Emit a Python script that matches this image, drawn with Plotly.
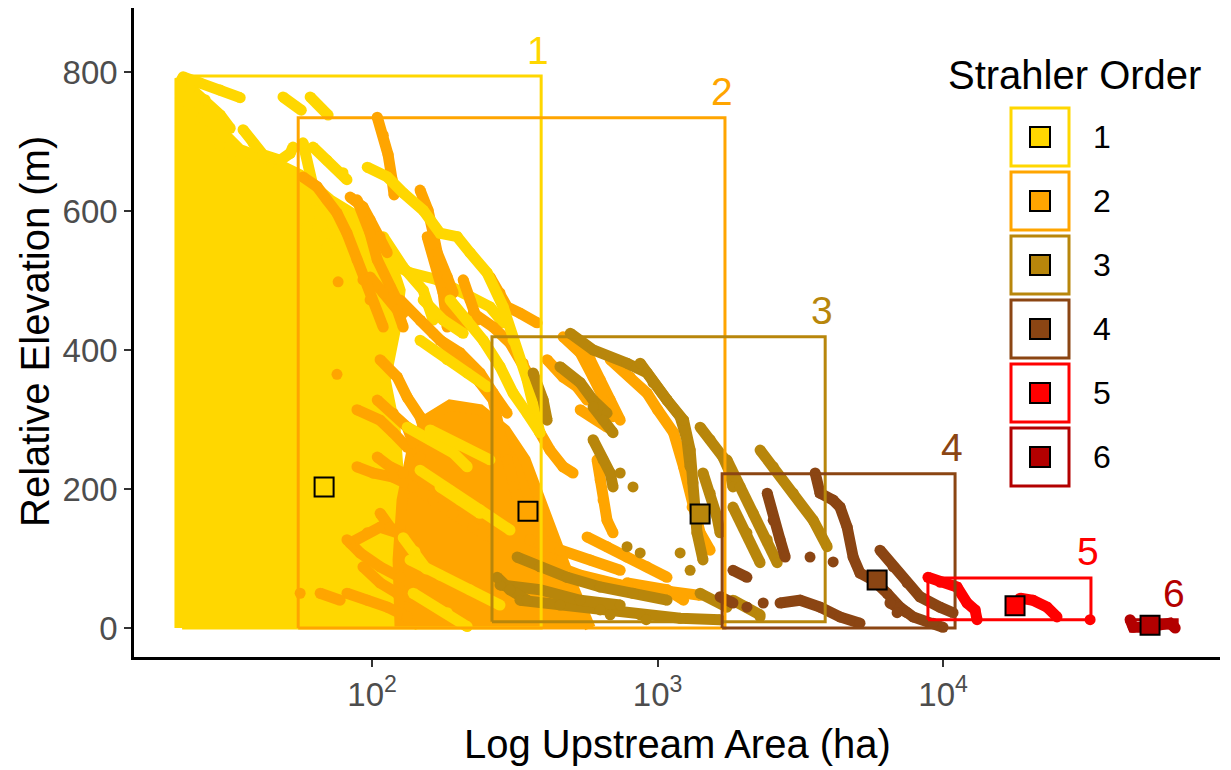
import math
import plotly.graph_objects as go

# ---------------- data ----------------
ORDERS = [1, 2, 3, 4, 5, 6]
COLORS = ["#FFD700", "#FFA500", "#B8860B", "#8B4513", "#FF0000", "#B30000"]

# extent of each Strahler order (upstream area in ha, relative elevation in m)
BOX_AREA_MIN = [21.6, 55.1, 263, 1683, 8851, 45186]
BOX_AREA_MAX = [391, 1722, 3864, 11015, 32960, 66069]
BOX_ELEV_MIN = [0, 0, 9, 0, 12, 0]
BOX_ELEV_MAX = [794, 734, 419, 222, 72, 12]

# mean position of each order
MEAN_AREA = [67.9, 351.6, 1409, 5875, 17865, 53088]
MEAN_ELEV = [203, 168, 164, 69, 32, 4]

# stream profiles: (log10 upstream area [ha], relative elevation [m])
ORDER1_CLOUD = [(1.327, 0), (1.327, 791), (1.380, 760), (1.450, 724), (1.538, 688), (1.643, 673),
                (1.748, 652), (1.853, 616), (1.940, 594), (2.011, 565), (2.063, 530), (2.098, 486),
                (2.081, 429), (2.046, 357), (2.081, 285), (2.098, 184), (2.081, 98), (2.168, 0)]
ORDER1_STREAMS = [
    [(1.334, 790), (1.334, 690)],
    [(1.338, 793), (1.398, 784), (1.468, 774), (1.538, 763)],
    [(1.363, 777), (1.415, 760), (1.468, 738), (1.503, 719)],
    [(1.338, 742), (1.398, 719), (1.468, 695), (1.538, 673)],
    [(1.688, 764), (1.752, 745)],
    [(1.783, 764), (1.846, 738)],
    [(1.548, 717), (1.583, 698), (1.618, 681), (1.678, 673), (1.713, 683), (1.723, 692)],
    [(1.758, 698), (1.783, 649), (1.807, 601), (1.842, 548), (1.877, 505)],
    [(1.793, 692), (1.842, 673), (1.898, 655), (1.912, 645)],
    [(2.039, 563), (2.109, 519), (2.179, 486), (2.214, 443)],
    [(1.772, 577), (1.842, 568), (1.923, 558), (1.993, 540), (2.063, 525), (2.133, 511), (2.228, 501),
     (2.308, 486), (2.413, 462), (2.459, 439)],
]
ORDER1_OVERLAY = [
    [(1.983, 663), (2.053, 649), (2.109, 626), (2.179, 601), (2.238, 568), (2.298, 563), (2.343, 540),
     (2.403, 511), (2.459, 462), (2.494, 414), (2.543, 357), (2.588, 281)],
    [(2.273, 472), (2.333, 443), (2.389, 414), (2.448, 376), (2.494, 338), (2.543, 309), (2.588, 281)],
    [(2.168, 414), (2.263, 386), (2.333, 367), (2.403, 347)],
    [(2.123, 289), (2.203, 271), (2.284, 252), (2.333, 232)],
    [(2.203, 285), (2.308, 263), (2.413, 242)],
    [(2.238, 203), (2.308, 184), (2.378, 165)],
    [(2.168, 227), (2.273, 198), (2.378, 170), (2.483, 141)],
    [(2.133, 98), (2.238, 76), (2.343, 55), (2.448, 33)],
    [(2.179, 472), (2.249, 443), (2.319, 424)],
    [(2.144, 50), (2.263, 22), (2.333, 2)],
    [(2.109, 130), (2.150, 110), (2.190, 85)],
]
ORDER2_CLOUD = [(2.098, 0), (2.091, 98), (2.105, 184), (2.140, 256), (2.186, 299), (2.273, 321),
                (2.378, 314), (2.466, 285), (2.536, 242), (2.588, 184), (2.641, 127), (2.694, 69),
                (2.764, 0)]
ORDER2_STREAMS = [
    [(2.018, 735), (2.039, 709), (2.056, 681), (2.070, 645), (2.077, 623)],
    [(2.168, 630), (2.196, 601), (2.214, 568), (2.228, 540), (2.263, 505), (2.284, 482)],
    [(1.923, 620), (1.968, 606), (1.993, 587), (2.028, 563), (2.053, 540)],
    [(1.947, 616), (1.993, 568), (2.018, 530), (2.063, 491), (2.109, 453)],
    [(1.993, 505), (2.039, 482), (2.088, 458), (2.109, 433)],
    [(2.413, 505), (2.448, 482), (2.473, 462), (2.518, 453), (2.578, 439)],
    [(2.319, 501), (2.343, 472), (2.368, 443)],
    [(2.249, 482), (2.284, 453), (2.319, 433)],
    [(1.758, 649), (1.807, 635), (1.842, 616), (1.877, 597), (1.912, 568), (1.947, 530), (1.968, 501),
     (1.993, 472), (2.039, 433)],
    [(2.193, 563), (2.228, 519), (2.249, 482), (2.263, 433)],
    [(2.098, 472), (2.168, 443), (2.238, 414), (2.308, 396), (2.378, 367), (2.424, 338), (2.473, 309)],
    [(2.354, 453), (2.424, 433), (2.483, 410), (2.529, 381), (2.564, 353), (2.588, 324)],
    [(2.028, 386), (2.088, 361), (2.123, 332), (2.168, 304), (2.193, 271)],
    [(1.947, 314), (2.028, 299), (2.074, 281), (2.123, 260)],
    [(2.018, 328), (2.074, 309), (2.123, 289), (2.144, 266), (2.168, 246)],
    [(1.947, 232), (2.004, 223), (2.074, 217), (2.144, 203), (2.214, 184), (2.284, 165), (2.354, 145),
     (2.424, 127)],
    [(1.923, 122), (1.983, 137), (2.028, 145), (2.088, 137), (2.144, 117)],
    [(1.968, 88), (2.028, 65), (2.088, 50), (2.168, 40)],
    [(1.912, 50), (1.983, 40), (2.053, 30), (2.123, 16)],
    [(2.168, 443), (2.214, 424), (2.284, 400), (2.333, 376), (2.378, 353), (2.424, 328), (2.448, 281),
     (2.473, 242), (2.494, 203), (2.518, 174)],
    [(2.588, 281), (2.623, 256), (2.669, 232), (2.704, 223)],
    [(2.753, 131), (2.823, 117), (2.893, 102), (2.963, 88), (3.033, 73)],
    [(2.553, 127), (2.658, 112), (2.764, 98), (2.869, 83)],
    [(2.588, 98), (2.729, 76), (2.869, 62), (3.009, 55), (3.149, 47)],
    [(2.788, 242), (2.799, 213), (2.809, 184), (2.823, 155), (2.844, 137)],
    [(2.613, 386), (2.669, 361), (2.718, 347), (2.753, 328)],
    [(2.711, 414), (2.764, 386), (2.799, 357), (2.834, 328), (2.869, 299)],
    [(2.834, 386), (2.904, 361), (2.963, 338), (3.000, 314), (3.056, 281), (3.091, 232), (3.121, 174),
     (3.149, 137), (3.184, 112)],
    [(2.669, 419), (2.729, 396), (2.774, 361), (2.809, 328), (2.844, 304)],
    [(2.893, 65), (2.963, 59), (3.033, 55), (3.091, 40)],
    [(2.729, 314), (2.774, 304), (2.823, 289)],
    [(2.018, 246), (2.063, 232), (2.109, 223)],
    [(1.912, 127), (1.958, 108), (2.028, 88), (2.098, 73)],
    [(1.818, 50), (1.888, 40)],
    [(2.028, 165), (2.063, 145), (2.123, 127)],
    [(1.881, 498)], [(1.877, 365)], [(1.748, 50)],
]
ORDER3_STREAMS = [
    [(2.694, 424), (2.774, 400), (2.893, 381), (2.963, 367), (3.033, 328), (3.091, 299), (3.114, 256),
     (3.124, 209), (3.138, 137), (3.159, 98)],
    [(3.149, 289), (3.184, 271), (3.229, 246), (3.254, 223), (3.264, 203)],
    [(3.159, 223), (3.184, 194), (3.208, 160), (3.219, 137)],
    [(3.243, 242), (3.289, 203), (3.335, 165), (3.384, 127), (3.419, 94)],
    [(3.359, 256), (3.405, 232), (3.475, 194), (3.545, 155), (3.594, 117)],
    [(3.264, 174), (3.313, 137), (3.359, 94)],
    [(2.564, 367), (2.599, 328), (2.613, 299)],
    [(2.658, 376), (2.729, 353), (2.774, 328), (2.823, 309)],
    [(2.939, 381), (2.984, 353), (3.033, 328), (3.079, 304), (3.103, 271), (3.114, 232)],
    [(2.508, 102), (2.588, 88), (2.683, 73), (2.799, 59), (2.914, 50), (3.033, 40)],
    [(2.518, 40), (2.658, 33), (2.799, 26), (2.939, 19), (3.079, 14), (3.219, 12)],
    [(2.448, 62), (2.588, 55), (2.729, 40), (2.869, 33)],
    [(2.438, 73), (2.483, 55), (2.543, 40)],
    [(2.774, 318), (2.809, 299), (2.844, 281)],
    [(2.774, 271), (2.809, 242), (2.834, 223), (2.844, 203)],
    [(3.149, 50), (3.208, 40), (3.243, 30)],
    [(3.264, 40), (3.313, 30), (3.359, 19)],
    [(2.869, 223)], [(2.914, 203)], [(2.893, 117)], [(2.939, 108)], [(3.079, 108)],
    [(3.114, 83)], [(3.236, 40)], [(3.359, 16)], [(2.834, 19)], [(2.960, 12)],
]
ORDER4_STREAMS = [
    [(3.552, 223), (3.569, 194), (3.615, 184), (3.639, 174), (3.664, 145), (3.685, 102), (3.709, 79),
     (3.755, 69), (3.804, 50), (3.849, 30), (3.895, 16), (3.965, 7), (4.000, 1)],
    [(3.779, 112), (3.825, 88), (3.874, 65), (3.919, 45), (3.989, 30), (4.035, 22)],
    [(3.384, 194), (3.405, 155), (3.429, 127), (3.447, 102)],
    [(3.264, 83), (3.313, 73)],
    [(3.429, 36), (3.499, 40), (3.569, 30), (3.639, 16), (3.709, 7)],
    [(3.219, 45), (3.264, 36)],
    [(3.814, 36), (3.874, 22)],
    [(3.370, 36)], [(3.534, 102)], [(3.615, 95)], [(3.839, 22)], [(3.313, 30)],
]
ORDER5_STREAMS = [
    [(3.947, 73), (3.989, 66), (4.049, 59), (4.084, 36), (4.112, 26), (4.119, 12)],
    [(4.270, 43), (4.315, 40), (4.364, 30), (4.399, 16)],
    [(4.515, 12)],
]
ORDER6_STREAMS = [
    [(4.655, 12), (4.666, 1), (4.715, 1), (4.795, 7), (4.813, 0)],
]

# ---------------- figure ----------------
W, H = 1231, 770
ML, MR, MT, MB = 134, 11, 8, 113
PW, PH = W - ML - MR, H - MT - MB
FONT = "Liberation Sans, Arial, sans-serif"
DOT = 11


def px_x(px):
    return (px - ML) / PW


def px_y(py):
    return (H - MB - py) / PH


fig = go.Figure()


def add_streams(streams, color, size=DOT):
    xs, ys = [], []
    for s in streams:
        xs += [10 ** p[0] for p in s] + [None]
        ys += [p[1] for p in s] + [None]
    fig.add_trace(go.Scatter(
        x=xs, y=ys, mode="lines+markers", connectgaps=False,
        line=dict(color=color, width=size), marker=dict(color=color, size=size),
        hoverinfo="skip", showlegend=False))


def add_cloud(poly, color):
    fig.add_trace(go.Scatter(
        x=[10 ** p[0] for p in poly], y=[p[1] for p in poly], mode="lines", fill="toself",
        fillcolor=color, line=dict(color=color, width=DOT), hoverinfo="skip", showlegend=False))


add_cloud(ORDER1_CLOUD, COLORS[0])
add_streams(ORDER1_STREAMS, COLORS[0])
add_cloud(ORDER2_CLOUD, COLORS[1])
add_streams(ORDER2_STREAMS, COLORS[1])
add_streams(ORDER1_OVERLAY, COLORS[0])
add_streams(ORDER3_STREAMS, COLORS[2])
add_streams(ORDER4_STREAMS, COLORS[3])
add_streams(ORDER5_STREAMS, COLORS[4])
add_streams(ORDER6_STREAMS, COLORS[5])

# extent rectangles
for i, o in enumerate(ORDERS):
    x0, x1 = BOX_AREA_MIN[i], BOX_AREA_MAX[i]
    y0, y1 = BOX_ELEV_MIN[i], BOX_ELEV_MAX[i]
    fig.add_trace(go.Scatter(
        x=[x0, x1, x1, x0, x0], y=[y0, y0, y1, y1, y0], mode="lines",
        line=dict(color=COLORS[i], width=3), hoverinfo="skip", showlegend=False))

# means
fig.add_trace(go.Scatter(
    x=MEAN_AREA, y=MEAN_ELEV, mode="markers",
    marker=dict(symbol="square", size=19, color=COLORS, line=dict(color="black", width=2)),
    hoverinfo="skip", showlegend=False))

annotations = []
for i, o in enumerate(ORDERS):
    annotations.append(dict(
        x=math.log10(BOX_AREA_MAX[i]), y=BOX_ELEV_MAX[i], xref="x", yref="y",
        text=str(o), showarrow=False, xanchor="center", yanchor="middle",
        xshift=-3, yshift=26, font=dict(family=FONT, size=39, color=COLORS[i])))

# axis titles
annotations.append(dict(x=0.5, y=px_y(744), xref="paper", yref="paper", text="Log Upstream Area (ha)",
                        showarrow=False, xanchor="center", yanchor="middle",
                        font=dict(family=FONT, size=40, color="black")))
annotations.append(dict(x=px_x(35), y=px_y(332), xref="paper", yref="paper", text="Relative Elevation (m)",
                        showarrow=False, xanchor="center", yanchor="middle", textangle=-90,
                        font=dict(family=FONT, size=40, color="black")))

# custom legend
shapes = []
annotations.append(dict(x=px_x(946), y=px_y(75), xref="paper", yref="paper", text="Strahler Order",
                        showarrow=False, xanchor="left", yanchor="middle",
                        font=dict(family=FONT, size=40, color="black")))
for i, o in enumerate(ORDERS):
    top = 107 + 64 * i
    cy = top + 30
    shapes.append(dict(type="rect", xref="paper", yref="paper",
                       x0=px_x(1011), x1=px_x(1069), y0=px_y(top + 59), y1=px_y(top + 1),
                       line=dict(color=COLORS[i], width=3), fillcolor="white"))
    shapes.append(dict(type="rect", xref="paper", yref="paper",
                       x0=px_x(1030), x1=px_x(1050), y0=px_y(cy + 10), y1=px_y(cy - 10),
                       line=dict(color="black", width=2), fillcolor=COLORS[i]))
    annotations.append(dict(x=px_x(1091), y=px_y(cy), xref="paper", yref="paper", text=str(o),
                            showarrow=False, xanchor="left", yanchor="middle",
                            font=dict(family=FONT, size=32, color="black")))

fig.update_layout(
    width=W, height=H, margin=dict(l=ML, r=MR, t=MT, b=MB),
    paper_bgcolor="white", plot_bgcolor="white", showlegend=False,
    annotations=annotations, shapes=shapes,
    xaxis=dict(type="log", range=[1.166, 4.970], tickvals=[100, 1000, 10000],
               ticktext=["10<sup>2</sup>", "10<sup>3</sup>", "10<sup>4</sup>"],
               showgrid=False, zeroline=False, showline=True, linecolor="black", linewidth=2.5,
               ticks="outside", ticklen=7, tickwidth=1.5, tickcolor="#333333",
               tickfont=dict(family=FONT, size=33, color="#4D4D4D")),
    yaxis=dict(range=[-41.7, 892], tickvals=[0, 200, 400, 600, 800],
               showgrid=False, zeroline=False, showline=True, linecolor="black", linewidth=2.5,
               ticks="outside", ticklen=7, tickwidth=1.5, tickcolor="#333333",
               tickfont=dict(family=FONT, size=33, color="#4D4D4D")),
)

fig.write_html("out.html")
